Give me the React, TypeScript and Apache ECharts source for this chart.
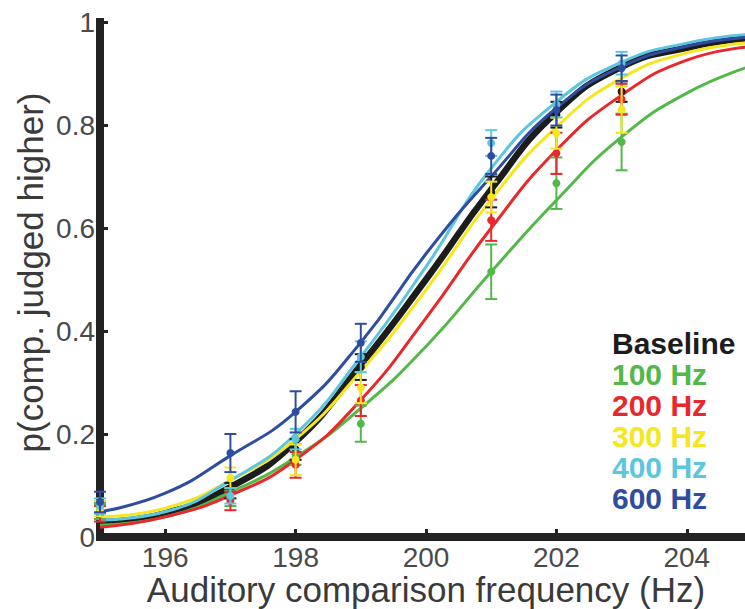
import React, { useEffect, useRef } from "react";
import * as echarts from "echarts";

// Fitted psychometric curves, read at each integer frequency (Hz)
const freqs = [195, 196, 197, 198, 199, 200, 201, 202, 203, 204, 205];
const baselineFit = [0.029, 0.046, 0.097, 0.185, 0.334, 0.5, 0.675, 0.825, 0.913, 0.95, 0.969];
const hz100Fit = [0.023, 0.039, 0.087, 0.155, 0.25, 0.37, 0.515, 0.654, 0.777, 0.862, 0.915];
const hz200Fit = [0.019, 0.039, 0.081, 0.15, 0.266, 0.425, 0.6, 0.751, 0.858, 0.926, 0.952];
const hz300Fit = [0.039, 0.056, 0.11, 0.19, 0.322, 0.48, 0.656, 0.796, 0.891, 0.94, 0.96];
const hz400Fit = [0.033, 0.049, 0.11, 0.2, 0.35, 0.525, 0.716, 0.845, 0.922, 0.959, 0.976];
const hz600Fit = [0.049, 0.085, 0.158, 0.243, 0.378, 0.55, 0.7, 0.833, 0.913, 0.953, 0.971];

// Measured points (mean and error half-width)
const freqPts = [195, 197, 198, 199, 201, 202, 203];
const baselineMean = [0.05, 0.09, 0.17, 0.33, 0.67, 0.82, 0.865];
const baselineErr = [0.015, 0.015, 0.02, 0.025, 0.03, 0.025, 0.02];
const hz100Mean = [0.05, 0.075, 0.16, 0.22, 0.515, 0.687, 0.767];
const hz100Err = [0.015, 0.015, 0.02, 0.035, 0.053, 0.05, 0.055];
const hz200Mean = [0.045, 0.07, 0.14, 0.265, 0.615, 0.745, 0.85];
const hz200Err = [0.015, 0.018, 0.025, 0.03, 0.04, 0.04, 0.03];
const hz300Mean = [0.055, 0.115, 0.15, 0.29, 0.66, 0.784, 0.83];
const hz300Err = [0.015, 0.02, 0.03, 0.03, 0.03, 0.03, 0.045];
const hz400Mean = [0.06, 0.08, 0.19, 0.35, 0.765, 0.84, 0.92];
const hz400Err = [0.015, 0.015, 0.02, 0.03, 0.025, 0.025, 0.022];
const hz600Mean = [0.068, 0.163, 0.243, 0.377, 0.74, 0.829, 0.91];
const hz600Err = [0.02, 0.037, 0.04, 0.037, 0.035, 0.03, 0.025];

const seriesNames = ["Baseline", "100 Hz", "200 Hz", "300 Hz", "400 Hz", "600 Hz"];
const seriesColors = ["#1c1c1c", "#52b848", "#e8282c", "#f5e620", "#5cc6df", "#2f4d9f"];
const fits = [baselineFit, hz100Fit, hz200Fit, hz300Fit, hz400Fit, hz600Fit];
const means = [baselineMean, hz100Mean, hz200Mean, hz300Mean, hz400Mean, hz600Mean];
const errs = [baselineErr, hz100Err, hz200Err, hz300Err, hz400Err, hz600Err];

const xTicks = [196, 198, 200, 202, 204];
const FONT = '"Liberation Sans", Arial, Helvetica, sans-serif';

export default function App() {
  const ref = useRef<HTMLDivElement>(null);

  useEffect(() => {
    if (!ref.current) return;
    const chart = echarts.init(ref.current, undefined, { renderer: "svg" });

    const lineSeries = seriesNames.map((name, k) => ({
      name,
      type: "line",
      smooth: 0.5,
      showSymbol: false,
      data: freqs.map((f, i) => [f, fits[k][i]]),
      lineStyle: { color: seriesColors[k], width: k === 0 ? 6.5 : 3 },
      itemStyle: { color: seriesColors[k] },
      z: 2,
    }));

    const errSeries = seriesNames.map((name, k) => ({
      name,
      type: "custom",
      data: freqPts.map((f, i) => [f, means[k][i], errs[k][i]]),
      z: 3,
      renderItem: (params: any, api: any) => {
        const x = api.value(0);
        const m = api.value(1);
        const e = api.value(2);
        const c = api.coord([x, m]);
        const lo = api.coord([x, m - e]);
        const hi = api.coord([x, m + e]);
        const hw = 6;
        const color = seriesColors[k];
        const st = { stroke: color, lineWidth: 2 };
        return {
          type: "group",
          children: [
            { type: "line", shape: { x1: c[0], y1: lo[1], x2: c[0], y2: hi[1] }, style: st },
            { type: "line", shape: { x1: c[0] - hw, y1: hi[1], x2: c[0] + hw, y2: hi[1] }, style: st },
            { type: "line", shape: { x1: c[0] - hw, y1: lo[1], x2: c[0] + hw, y2: lo[1] }, style: st },
            { type: "circle", shape: { cx: c[0], cy: c[1], r: 4 }, style: { fill: color } },
          ],
        };
      },
    }));

    chart.setOption({
      animation: false,
      backgroundColor: "#ffffff",
      textStyle: { fontFamily: FONT },
      grid: { left: 100, right: -7, top: 22, bottom: 72, containLabel: false, outerBoundsMode: "none" },
      legend: {
        data: seriesNames.map((n, k) => ({ name: n, textStyle: { color: seriesColors[k] } })),
        orient: "vertical",
        left: 607,
        top: 328,
        padding: 0,
        itemGap: 0,
        icon: "none",
        itemWidth: 0,
        itemHeight: 0,
        selectedMode: false,
        textStyle: { fontFamily: FONT, fontSize: 30, fontWeight: "bold", lineHeight: 31 },
      },
      xAxis: {
        type: "value",
        min: 195,
        max: 205,
        name: "Auditory comparison frequency (Hz)",
        nameLocation: "middle",
        nameGap: 37,
        nameMoveOverlap: false,
        nameTextStyle: { fontFamily: FONT, fontSize: 35, lineHeight: 30, color: "#3a3a3a" },
        axisLine: { lineStyle: { color: "#222", width: 8, cap: "square" } },
        axisTick: { show: true, inside: true, length: 8, customValues: xTicks, lineStyle: { color: "#222", width: 3 } },
        axisLabel: { customValues: xTicks, fontFamily: FONT, fontSize: 28, lineHeight: 24, color: "#4a4a4a", margin: 8 },
        splitLine: { show: false },
      },
      yAxis: {
        type: "value",
        min: 0,
        max: 1,
        interval: 0.2,
        name: "p(comp. judged higher)",
        nameLocation: "middle",
        nameGap: 52,
        nameMoveOverlap: false,
        nameTextStyle: { fontFamily: FONT, fontSize: 35, color: "#3a3a3a", padding: [0, 0, 0, 14] },
        axisLine: { show: true, lineStyle: { color: "#222", width: 8, cap: "square" } },
        axisTick: { show: true, inside: true, length: 8, lineStyle: { color: "#222", width: 3 } },
        axisLabel: { fontFamily: FONT, fontSize: 28, color: "#4a4a4a", margin: 5 },
        splitLine: { show: false },
      },
      series: [...lineSeries, ...errSeries],
    });

    return () => chart.dispose();
  }, []);

  return (
    <div
      ref={ref}
      style={{ position: "absolute", left: 0, top: 0, width: 745, height: 609 }}
    />
  );
}
